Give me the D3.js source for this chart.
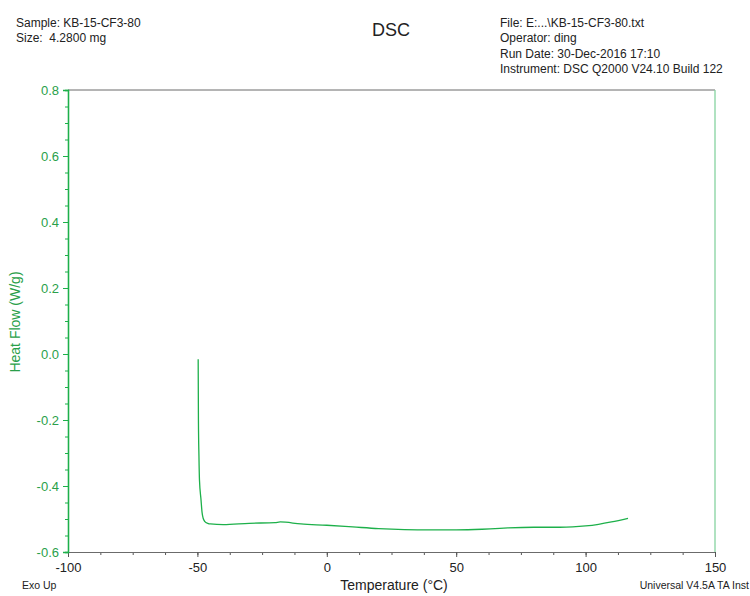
<!DOCTYPE html>
<html>
<head>
<meta charset="utf-8">
<script src="https://cdn.jsdelivr.net/npm/d3@7"></script>
<style>
  html, body { margin: 0; padding: 0; background: #fff; }
  svg { display: block; font-family: "Liberation Sans", Arial, sans-serif; }
</style>
</head>
<body>
<svg id="chart" width="750" height="596"></svg>
<script>
// DSC run: temperature (°C) vs heat flow (W/g)
const temperature = [-49.7, -49.6, -49.4, -49.2, -48.6, -48.2, -47.8, -47.1, -46.0, -45.0, -40, -30, -20, -18, -10, 0, 10, 20, 30, 40, 50, 60, 65, 70, 80, 90, 95, 100, 105, 110, 116.4];
const heatFlow    = [-0.016, -0.20, -0.31, -0.382, -0.442, -0.48, -0.497, -0.508, -0.513, -0.515, -0.517, -0.513, -0.511, -0.509, -0.515, -0.519, -0.524, -0.529, -0.532, -0.533, -0.533, -0.531, -0.529, -0.527, -0.525, -0.525, -0.524, -0.521, -0.516, -0.509, -0.498];

const xTicks = [-100, -50, 0, 50, 100, 150];
const yTicks = [0.8, 0.6, 0.4, 0.2, 0.0, -0.2, -0.4, -0.6];
const headerLeft = ["Sample: KB-15-CF3-80", "Size:  4.2800 mg"];
const headerRight = ["File: E:...\\KB-15-CF3-80.txt", "Operator: ding", "Run Date: 30-Dec-2016 17:10", "Instrument: DSC Q2000 V24.10 Build 122"];

const green = "#1db04a";
const labelGreen = "#2a9f4a";
const grey = "#6b6b6b";

// plain hyphen for negative numbers
const hyphen = f => d => f(d).replace("\u2212", "-");

const svg = d3.select("#chart");
const m = { left: 68, right: 715, top: 90, bottom: 552 };

const x = d3.scaleLinear().domain([-100, 150]).range([m.left, m.right]);
const y = d3.scaleLinear().domain([-0.6, 0.8]).range([m.bottom, m.top]);

// frame: grey top/bottom, green left, light green right
svg.append("line").attr("x1", m.left).attr("x2", m.right).attr("y1", m.top).attr("y2", m.top)
  .attr("stroke", grey).attr("stroke-width", 1);
svg.append("line").attr("x1", m.right).attr("x2", m.right).attr("y1", m.top).attr("y2", m.bottom)
  .attr("stroke", "#86d3a0").attr("stroke-width", 1.3);

// x axis: minor ticks every 12.5
const xAxisG = svg.append("g").attr("transform", `translate(0,${m.bottom})`);
xAxisG.call(d3.axisBottom(x).tickValues(d3.range(-100, 150.1, 12.5)).tickSize(3).tickFormat(""));
xAxisG.append("g").call(d3.axisBottom(x).tickValues(xTicks).tickSize(5).tickFormat(hyphen(d3.format("d"))));
xAxisG.selectAll("path.domain").attr("stroke", grey);
xAxisG.selectAll(".tick line").attr("stroke", "#555");
xAxisG.selectAll(".tick text").attr("fill", "#222").attr("font-size", 13)
  .attr("font-family", "'Liberation Sans', Arial, sans-serif").attr("dy", "0.95em");

// y axis: minor ticks every 0.05
const yAxisG = svg.append("g").attr("transform", `translate(${m.left},0)`);
yAxisG.call(d3.axisLeft(y).tickValues(d3.range(-0.6, 0.8001, 0.05)).tickSize(3).tickFormat(""));
yAxisG.append("g").call(d3.axisLeft(y).tickValues(yTicks).tickSize(5).tickFormat(hyphen(d3.format(".1f"))));
yAxisG.selectAll("path.domain").attr("stroke", green).attr("stroke-width", 1.3);
yAxisG.selectAll(".tick line").attr("stroke", green);
yAxisG.selectAll(".tick text").attr("fill", labelGreen).attr("font-size", 13)
  .attr("font-family", "'Liberation Sans', Arial, sans-serif").attr("x", -9);

// heat-flow curve
svg.append("path").datum(heatFlow)
  .attr("d", d3.line().x((d, i) => x(temperature[i])).y(d => y(d)).curve(d3.curveMonotoneX))
  .attr("fill", "none").attr("stroke", green).attr("stroke-width", 1.3);

// headers
svg.append("g").selectAll("text").data(headerLeft).join("text")
  .attr("x", 16).attr("y", (d, i) => 27 + i * 15.2)
  .attr("font-size", 12).attr("fill", "#222").style("white-space", "pre").text(d => d);
svg.append("g").selectAll("text").data(headerRight).join("text")
  .attr("x", 500).attr("y", (d, i) => 27 + i * 15.3)
  .attr("font-size", 12).attr("fill", "#222").text(d => d);
svg.append("text").attr("x", 391).attr("y", 36).attr("text-anchor", "middle")
  .attr("font-size", 18).attr("fill", "#222").text("DSC");

// axis titles and footers
svg.append("text").attr("x", 394).attr("y", 590).attr("text-anchor", "middle")
  .attr("font-size", 14).attr("fill", "#222").text("Temperature (°C)");
svg.append("text").attr("transform", "translate(20,322) rotate(-90)").attr("text-anchor", "middle")
  .attr("font-size", 14).attr("fill", labelGreen).text("Heat Flow (W/g)");
svg.append("text").attr("x", 22).attr("y", 589).attr("font-size", 10.5).attr("fill", "#222").text("Exo Up");
svg.append("text").attr("x", 749).attr("y", 589).attr("text-anchor", "end")
  .attr("font-size", 10.5).attr("fill", "#222").text("Universal V4.5A TA Inst");
</script>
</body>
</html>
